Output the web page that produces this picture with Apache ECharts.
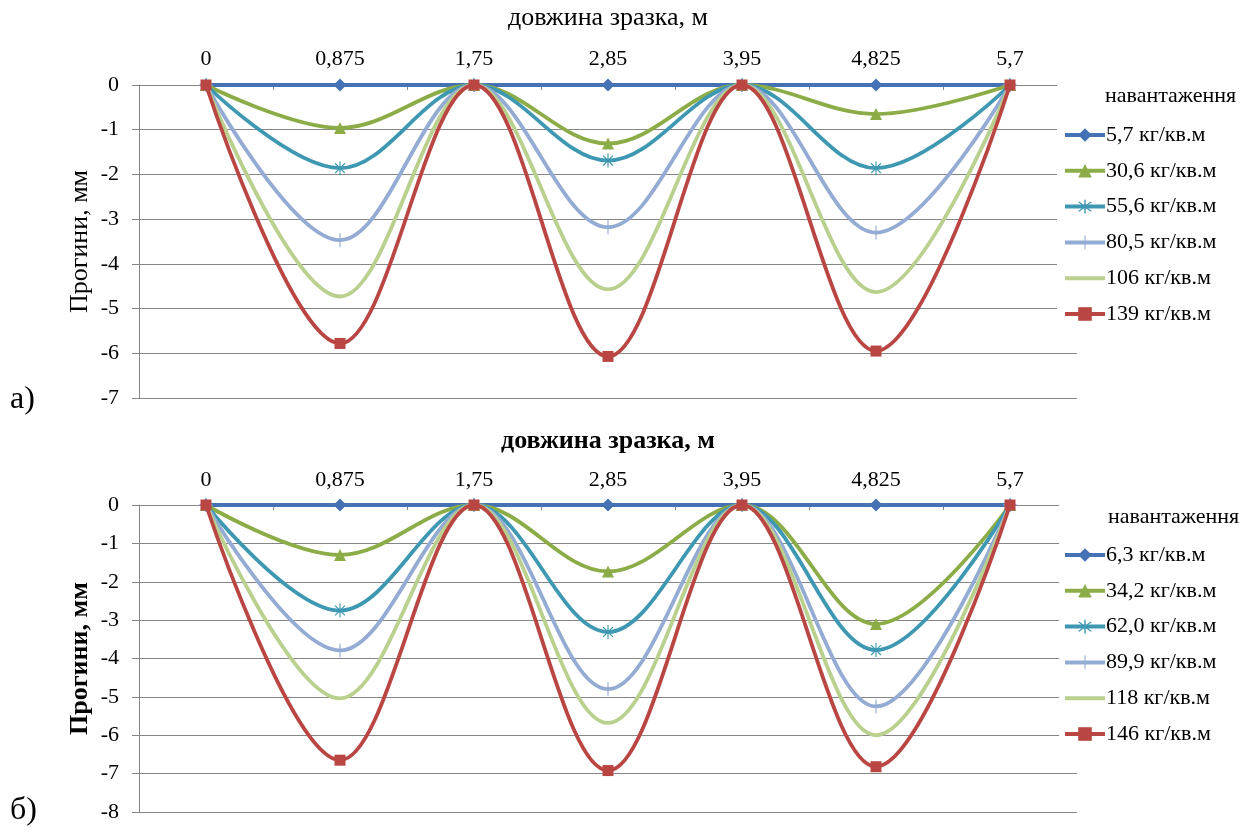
<!DOCTYPE html>
<html><head><meta charset="utf-8">
<script src="https://cdn.jsdelivr.net/npm/echarts@6/dist/echarts.min.js"></script>
<style>html,body{margin:0;padding:0;background:#fff}#c{width:1256px;height:834px}</style>
</head><body><div id="c"></div>
<script>
const categories = ['0','0,875','1,75','2,85','3,95','4,825','5,7'];
const namesA = ['5,7 кг/кв.м','30,6 кг/кв.м','55,6 кг/кв.м','80,5 кг/кв.м','106 кг/кв.м','139 кг/кв.м'];
const namesB = ['6,3 кг/кв.м','34,2 кг/кв.м','62,0 кг/кв.м','89,9 кг/кв.м','118 кг/кв.м','146 кг/кв.м'];
const a1 = [0, 0, 0, 0, 0, 0, 0];
const a2 = [0, -0.96, 0, -1.31, 0, -0.65, 0];
const a3 = [0, -1.86, 0, -1.69, 0, -1.86, 0];
const a4 = [0, -3.47, 0, -3.18, 0, -3.30, 0];
const a5 = [0, -4.73, 0, -4.57, 0, -4.63, 0];
const a6 = [0, -5.78, 0, -6.07, 0, -5.95, 0];
const b1 = [0, 0, 0, 0, 0, 0, 0];
const b2 = [0, -1.30, 0, -1.73, 0, -3.10, 0];
const b3 = [0, -2.75, 0, -3.31, 0, -3.78, 0];
const b4 = [0, -3.79, 0, -4.80, 0, -5.25, 0];
const b5 = [0, -5.04, 0, -5.68, 0, -6.00, 0];
const b6 = [0, -6.65, 0, -6.92, 0, -6.82, 0];
const yTitle = 'Прогини, мм';
const xTitle = 'довжина зразка, м';
const legendTitle = 'навантаження';

const FONT = '"Liberation Serif", "Times New Roman", serif';
const colors = ['#4472B4', '#8BAC47', '#3E98B2', '#94ABD3', '#BAD08E', '#B94643'];
const asterisk = 'path://M9.2,0 H10.8 V20 H9.2 Z M2.4,3.6 L3.6,2.4 L17.6,16.4 L16.4,17.6 Z M16.4,2.4 L17.6,3.6 L3.6,17.6 L2.4,16.4 Z';
const plus = 'path://M9.2,0 H10.8 V20 H9.2 Z M0,9.2 H20 V10.8 H0 Z';
const dash = 'path://M0,0 H20 V4 H0 Z';
const symbols = [
  {symbol: 'diamond', size: 13},
  {symbol: 'triangle', size: 12},
  {symbol: asterisk, size: 14},
  {symbol: plus, size: 14},
  {symbol: dash, size: [12, 3]},
  {symbol: 'rect', size: 11}
];

function mkSeries(names, arrays, idx) {
  return arrays.map((d, i) => ({
    name: names[i], type: 'line', xAxisIndex: idx, yAxisIndex: idx,
    data: d, smooth: 0.36, symbol: symbols[i].symbol, symbolSize: symbols[i].size,
    symbolKeepAspect: true,
    showAllSymbol: true,
    lineStyle: {color: colors[i], width: 3.8},
    itemStyle: {color: colors[i], borderWidth: 0},
    z: 3 + i
  }));
}

function xAxis(idx, bold, nameGap) {
  return {
    type: 'category', gridIndex: idx, position: 'top', data: categories,
    boundaryGap: true,
    name: xTitle, nameLocation: 'middle', nameGap: nameGap,
    nameTextStyle: {fontFamily: FONT, fontSize: 26, color: '#000', fontWeight: bold ? 'bold' : 'normal'},
    axisLine: {show: true, onZero: false, lineStyle: {color: '#868686', width: 1}},
    axisTick: {show: true, inside: true, length: 5, alignWithLabel: false, lineStyle: {color: '#868686'}},
    axisLabel: {fontFamily: FONT, fontSize: 22, color: '#000', margin: idx === 0 ? 15 : 14},
    splitLine: {show: false}
  };
}
function yAxis(idx, min, bold) {
  return {
    type: 'value', gridIndex: idx, min: min, max: 0, interval: 1,
    name: yTitle, nameLocation: 'middle', nameGap: 46, nameRotate: 90,
    nameMoveOverlap: false,
    nameTextStyle: {fontFamily: FONT, fontSize: 26, color: '#000', fontWeight: bold ? 'bold' : 'normal'},
    axisLine: {show: true, lineStyle: {color: '#868686', width: 1}},
    axisTick: {show: true, length: 7, lineStyle: {color: '#868686'}},
    axisLabel: {fontFamily: FONT, fontSize: 22, color: '#000', margin: 20},
    splitLine: {show: true, lineStyle: {color: '#868686', width: 1}}
  };
}
function legend(idx, names, top) {
  return {
    orient: 'vertical', left: 1063, top: top, padding: 0,
    itemWidth: 40, itemHeight: 17, itemGap: 13.8,
    data: names.map((n, i) => i === 4 ? {name: n, itemStyle: {opacity: 0}} : n),
    z: 10,
    lineStyle: {width: 4},
    textStyle: {fontFamily: FONT, fontSize: 22, color: '#000', lineHeight: 20, padding: [0, 0, 0, -4]}
  };
}

const chart = echarts.init(document.getElementById('c'), null, {renderer: 'canvas'});
chart.setOption({
  animation: false,
  backgroundColor: '#fff',
  grid: [
    {left: 139, top: 85, width: 938, height: 313},
    {left: 139, top: 505, width: 938, height: 307}
  ],
  xAxis: [xAxis(0, false, 54), xAxis(1, true, 51)],
  yAxis: [yAxis(0, -7, false), yAxis(1, -8, true)],
  legend: [legend(0, namesA, 124), legend(1, namesB, 544)],
  graphic: [
    {type: 'rect', z: 5, shape: {x: 1057, y: 75, width: 199, height: 262}, style: {fill: '#fff'}},
    {type: 'rect', z: 5, shape: {x: 1059, y: 495, width: 197, height: 258}, style: {fill: '#fff'}},
    {type: 'text', z: 11, left: 1105, top: 85, style: {text: legendTitle, font: '22px ' + FONT, fill: '#000'}},
    {type: 'text', z: 11, left: 1108, top: 506, style: {text: legendTitle, font: '22px ' + FONT, fill: '#000'}},
    {type: 'text', z: 11, left: 10, top: 384, style: {text: 'а)', font: '32px ' + FONT, fill: '#000'}},
    {type: 'text', z: 11, left: 10, top: 795, style: {text: 'б)', font: '32px ' + FONT, fill: '#000'}}
  ],
  series: mkSeries(namesA, [a1, a2, a3, a4, a5, a6], 0).concat(mkSeries(namesB, [b1, b2, b3, b4, b5, b6], 1))
});
</script></body></html>
